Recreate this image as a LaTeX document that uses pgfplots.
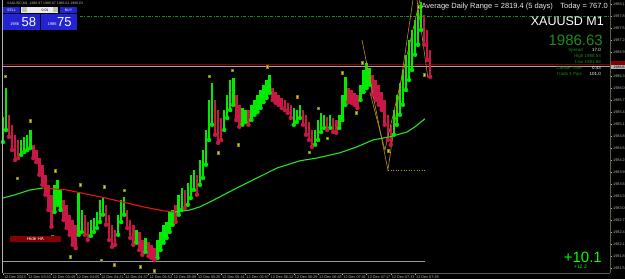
\documentclass[border=0pt]{standalone}
\usepackage{fontspec}
\setmainfont{Liberation Sans}
\usepackage{pgfplots}
\usepackage{pgfplotstable}
\pgfplotsset{compat=1.18}
\definecolor{cgreen}{RGB}{0,235,0}
\definecolor{cred}{RGB}{200,25,70}
\definecolor{magreen}{RGB}{40,225,40}
\definecolor{mared}{RGB}{235,20,20}
\definecolor{gold}{RGB}{185,145,35}
\definecolor{mk}{RGB}{220,220,0}
\definecolor{axc}{RGB}{95,95,65}
\definecolor{lab}{RGB}{185,185,170}
\definecolor{dgreen}{RGB}{30,140,30}
\definecolor{btnblue}{RGB}{35,35,210}
\definecolor{lvred}{RGB}{130,0,0}

\pgfplotstableread{
m low high
0 1984.70 1985.33
2 1985.00 1986.05
12 1984.38 1984.75
14 1984.45 1984.83
16 1984.50 1984.88
18 1984.55 1985.00
34 1982.95 1983.63
36 1983.13 1983.75
38 1983.00 1983.50
50 1982.38 1983.43
52 1982.45 1983.00
58 1982.35 1982.75
60 1982.45 1982.80
62 1982.55 1982.95
64 1982.70 1983.25
66 1982.88 1983.33
76 1982.38 1982.88
78 1982.70 1983.25
80 1982.88 1983.33
88 1982.18 1982.50
94 1981.95 1982.30
102 1981.80 1982.25
104 1982.00 1982.45
106 1982.18 1982.63
108 1982.30 1982.70
110 1982.45 1982.95
112 1982.63 1983.00
116 1982.88 1983.38
118 1983.00 1983.55
122 1983.13 1983.68
124 1983.30 1983.88
126 1983.50 1984.00
130 1983.63 1984.25
132 1983.80 1984.50
134 1984.13 1985.00
136 1984.75 1985.75
138 1985.13 1986.18
146 1985.00 1985.50
148 1985.30 1985.88
150 1985.50 1986.25
152 1985.63 1986.30
158 1985.13 1985.55
160 1985.20 1985.50
164 1985.25 1985.63
166 1985.38 1985.75
168 1985.45 1985.88
170 1985.55 1986.00
172 1985.70 1986.13
174 1985.80 1986.25
176 1985.93 1986.38
192 1985.13 1985.55
194 1985.20 1985.50
196 1985.30 1985.63
206 1984.63 1985.00
208 1984.75 1985.25
210 1984.95 1985.43
212 1985.05 1985.38
216 1985.05 1985.38
222 1985.05 1985.38
224 1985.25 1985.88
226 1985.63 1986.33
236 1985.75 1986.13
238 1985.95 1986.50
240 1986.05 1986.68
242 1986.13 1986.55
258 1984.88 1985.50
260 1985.13 1985.88
262 1985.38 1986.18
264 1985.63 1986.50
266 1986.00 1986.88
268 1986.25 1987.25
270 1986.50 1987.50
272 1986.88 1987.75
274 1987.13 1988.00
276 1987.50 1988.20
}\greentab

\pgfplotstableread{
m low high
4 1984.83 1985.38
6 1984.50 1985.13
8 1984.25 1984.88
10 1984.30 1984.75
20 1984.30 1984.63
22 1984.20 1984.50
24 1983.88 1984.30
26 1983.63 1984.13
28 1983.38 1983.88
30 1983.00 1983.63
32 1982.58 1983.38
40 1982.75 1983.25
42 1982.55 1983.13
44 1982.38 1982.88
46 1982.13 1982.75
48 1982.05 1982.63
54 1982.38 1982.88
56 1982.25 1982.70
68 1982.63 1983.13
70 1982.25 1982.88
72 1982.08 1982.63
74 1982.13 1982.50
82 1982.55 1983.00
84 1982.30 1982.75
86 1982.13 1982.63
90 1982.00 1982.45
92 1981.88 1982.25
96 1981.85 1982.20
98 1981.80 1982.13
100 1981.75 1982.05
114 1982.70 1983.13
120 1983.05 1983.50
128 1983.38 1983.88
140 1984.88 1985.75
142 1984.68 1985.50
144 1984.75 1985.30
154 1985.25 1985.88
156 1985.08 1985.63
162 1985.13 1985.50
178 1985.75 1986.05
180 1985.68 1985.95
182 1985.63 1985.88
184 1985.55 1985.80
186 1985.50 1985.75
188 1985.43 1985.68
190 1985.30 1985.63
198 1985.13 1985.50
200 1984.88 1985.38
202 1984.75 1985.20
204 1984.58 1985.00
214 1985.00 1985.33
218 1984.95 1985.30
220 1984.93 1985.25
228 1985.70 1986.05
230 1985.68 1986.00
232 1985.63 1985.93
234 1985.55 1985.88
244 1985.88 1986.38
246 1985.75 1986.25
248 1985.63 1986.13
250 1985.50 1985.95
252 1985.13 1985.75
254 1984.75 1985.38
256 1984.63 1985.13
278 1987.13 1987.88
280 1986.75 1987.50
282 1986.33 1987.00
}\redtab

\begin{document}
\begin{tikzpicture}[x=1pt,y=1pt]
\fill[black] (0,0) rectangle (625,279);
\begin{axis}[at={(3pt,6pt)}, anchor=south west, scale only axis,
  width=607pt, height=273pt,
  xmin=0, xmax=400.7, ymin=1981.425, ymax=1988.25,
  axis x line=bottom, axis y line=right,
  axis line style={-, draw=axc, line width=0.8pt},
  tick align=outside, major tick length=2pt,
  tick style={draw=lab, line width=0.4pt},
  xtick={0,16,...,272},
  xticklabels={12 Dec 2023,12 Dec 03:33,12 Dec 03:49,12 Dec 04:05,12 Dec 04:21,12 Dec 04:37,12 Dec 04:53,12 Dec 05:09,12 Dec 05:25,12 Dec 05:41,12 Dec 05:57,12 Dec 06:13,12 Dec 06:29,12 Dec 06:45,12 Dec 07:01,12 Dec 07:17,12 Dec 07:33,12 Dec 07:49},
  xticklabel style={font=\fontsize{3.8}{4.5}\selectfont, text=lab, anchor=north west, inner sep=0.6pt, xshift=0.3pt},
  ytick={1988.15,1987.85,1987.55,1987.25,1986.95,1986.65,1986.35,1986.05,1985.75,1985.45,1985.15,1984.85,1984.55,1984.25,1983.95,1983.65,1983.35,1983.05,1982.75,1982.45,1982.15,1981.85,1981.55},
  yticklabel style={font=\fontsize{3.8}{4.5}\selectfont, text=lab, anchor=west, inner sep=1pt,
    /pgf/number format/.cd, fixed, fixed zerofill, precision=2, 1000 sep={}, assume math mode=true},
  clip=true]

% horizontal levels
\addplot[lvred, line width=0.7pt] coordinates {(0,1986.65) (400.7,1986.65)};
\addplot[gray!70, line width=0.6pt] coordinates {(0,1986.59) (400.7,1986.59)};
\addplot[gray!80, line width=0.6pt] coordinates {(0,1981.725) (278.5,1981.725)};
\addplot[dgreen, line width=0.5pt, dash pattern=on 3pt off 1.5pt on 0.8pt off 1.5pt] coordinates {(50.8,1987.85) (400.7,1987.85)};

% candles
\addplot[cgreen, only marks, mark=none, error bars/.cd, y dir=plus, y explicit, error mark=none,
  error bar style={line width=2.5pt, cgreen}]
  table[x=m, y=low, y error expr=\thisrow{high}-\thisrow{low}] {\greentab};
\addplot[cred, only marks, mark=none, error bars/.cd, y dir=plus, y explicit, error mark=none,
  error bar style={line width=2.5pt, cred}]
  table[x=m, y=low, y error expr=\thisrow{high}-\thisrow{low}] {\redtab};

% moving average
\addplot[magreen, line width=1.1pt] coordinates {(0,1983.30) (7.9,1983.38) (17.8,1983.50) (26.4,1983.55)};
\addplot[mared, line width=1.1pt] coordinates {(26.4,1983.55) (42.2,1983.50) (64.0,1983.33) (79.2,1983.20) (92.4,1983.08) (105.6,1982.98) (113.5,1982.95)};
\addplot[magreen, line width=1.1pt] coordinates {(113.5,1982.95) (123.4,1983.00) (130.0,1983.08) (136.6,1983.20) (151.8,1983.50) (165.0,1983.75) (180.9,1984.05) (196.0,1984.23) (207.3,1984.30) (222.4,1984.43) (233.7,1984.58) (244.2,1984.75) (255.4,1984.83) (262.0,1984.90) (266.7,1984.95) (272.0,1985.08) (278.5,1985.28)};

% zigzag / channel lines
\addplot[gold, line width=0.6pt] coordinates {(237.0,1987.25) (254.1,1984.00) (270.6,1988.25)};
\addplot[gold, line width=0.6pt] coordinates {(242.2,1985.95) (252.1,1984.50) (275.2,1988.25)};
\addplot[gold, line width=0.6pt] coordinates {(273.3,1988.25) (280.5,1986.30)};
\addplot[gold, line width=0.6pt, dotted] coordinates {(254.1,1984.00) (278.5,1984.00)};

% markers
\addplot[only marks, mark=square*, mark size=1.2pt, mark options={fill=mk, draw=mk!60!black, line width=0.3pt}] coordinates {
(1.3,1986.35) (17.8,1985.23) (9.2,1983.80) (34.3,1983.98) (50.8,1983.63) (66.7,1983.58) (79.9,1983.50)
(32.3,1982.35) (44.2,1981.83) (64.7,1981.75) (73.3,1981.63) (90.4,1981.58) (99.7,1981.48)
(136.0,1986.35) (151.2,1986.50) (174.3,1986.58) (237.0,1986.68) (223.8,1986.43)
(194.1,1985.83) (207.9,1985.55) (233.0,1985.43) (141.9,1984.43) (155.1,1984.63)
(213.9,1984.80) (202.0,1984.45) (254.1,1984.48) (273.9,1988.08) (277.9,1986.38)};
\end{axis}

% left border
\draw[gray!60, line width=1pt] (2,6) -- (2,279);

% price boxes on right axis
\fill[lvred] (611,214) rectangle (625,217.5);
\fill[gray!60] (611,209.5) rectangle (625,214);
\node[anchor=west, inner sep=0.5pt, font=\fontsize{3.5}{4}\selectfont, text=black] at (613,211.8) {1986.63};

% top-left title and trade panel
\node[anchor=base west, inner sep=0pt, font=\fontsize{3.5}{4}\selectfont, text=lab] at (7,274) {XAUUSD,M1\ \ 1986.97 1986.97 1986.62 1986.63};
\fill[btnblue] (3,266) rectangle (20,272);
\node[font=\fontsize{3.5}{4}\selectfont, text=white, inner sep=0pt] at (11.5,269) {SELL};
\fill[white!92!black] (21,266) rectangle (58,272);
\fill[gray!50] (21.5,266.5) rectangle (26.5,271.5);
\fill[gray!50] (52.5,266.5) rectangle (57.5,271.5);
\node[font=\fontsize{3.5}{4}\selectfont, text=black, inner sep=0pt] at (45,269) {0.01};
\fill[btnblue] (60,266) rectangle (77,272);
\node[font=\fontsize{3.5}{4}\selectfont, text=white, inner sep=0pt] at (68.5,269) {BUY};
\fill[btnblue] (3,249) rectangle (40,265);
\fill[btnblue] (41,249) rectangle (77,265);
\node[anchor=base west, inner sep=0pt, font=\fontsize{4}{5}\selectfont, text=white] at (10,253) {1986};
\node[anchor=base west, inner sep=0pt, font=\fontsize{13}{15}\selectfont, text=white] at (21.5,252) {58};
\node[anchor=base west, inner sep=0pt, font=\fontsize{4}{5}\selectfont, text=white] at (47.5,253) {1986};
\node[anchor=base west, inner sep=0pt, font=\fontsize{13}{15}\selectfont, text=white] at (57,252) {75};

% top-right texts
\node[anchor=base east, inner sep=0pt, font=\fontsize{7.5}{9}\selectfont, text=white!85!gray] at (608,270) {Average Daily Range = 2819.4 (5 days)\quad Today = 767.0};
\node[anchor=base east, inner sep=0pt, font=\fontsize{12.5}{14}\selectfont, text=white] at (604,253) {XAUUSD M1};
\node[anchor=base east, inner sep=0pt, font=\fontsize{15}{17}\selectfont, text=dgreen] at (603,233) {1986.63};
\begin{scope}[every node/.style={inner sep=0pt, font=\fontsize{4.5}{5}\selectfont}]
\node[anchor=base east, text=dgreen] at (583,227.5) {Spread};
\node[anchor=base east, text=white] at (601,227.5) {17.0};
\node[anchor=base east, text=dgreen] at (601,221.5) {High 1988.53};
\node[anchor=base east, text=dgreen] at (601,215.5) {Low 1981.86};
\node[anchor=base east, text=dgreen] at (582,209.5) {Candle Time};
\node[anchor=base east, text=white] at (601,209.5) {0:43};
\node[anchor=base east, text=dgreen] at (582,203.5) {Trade 1 Pips};
\node[anchor=base east, text=white] at (601,203.5) {101.0};
\end{scope}

% bottom-right
\node[anchor=base east, inner sep=0pt, font=\fontsize{15}{17}\selectfont, text=green] at (602,16.5) {+10.1};
\node[anchor=base, inner sep=0pt, font=\fontsize{5}{6}\selectfont, text=green] at (580.5,10.5) {+12.2};

% Hide HA button
\fill[lvred] (10,37) rectangle (61,43);
\node[inner sep=0pt, font=\fontsize{4.5}{5}\selectfont, text=white] at (35.5,40) {Hide HA};

\pgfresetboundingbox
\useasboundingbox (0,0) rectangle (625,279);
\end{tikzpicture}
\end{document}
